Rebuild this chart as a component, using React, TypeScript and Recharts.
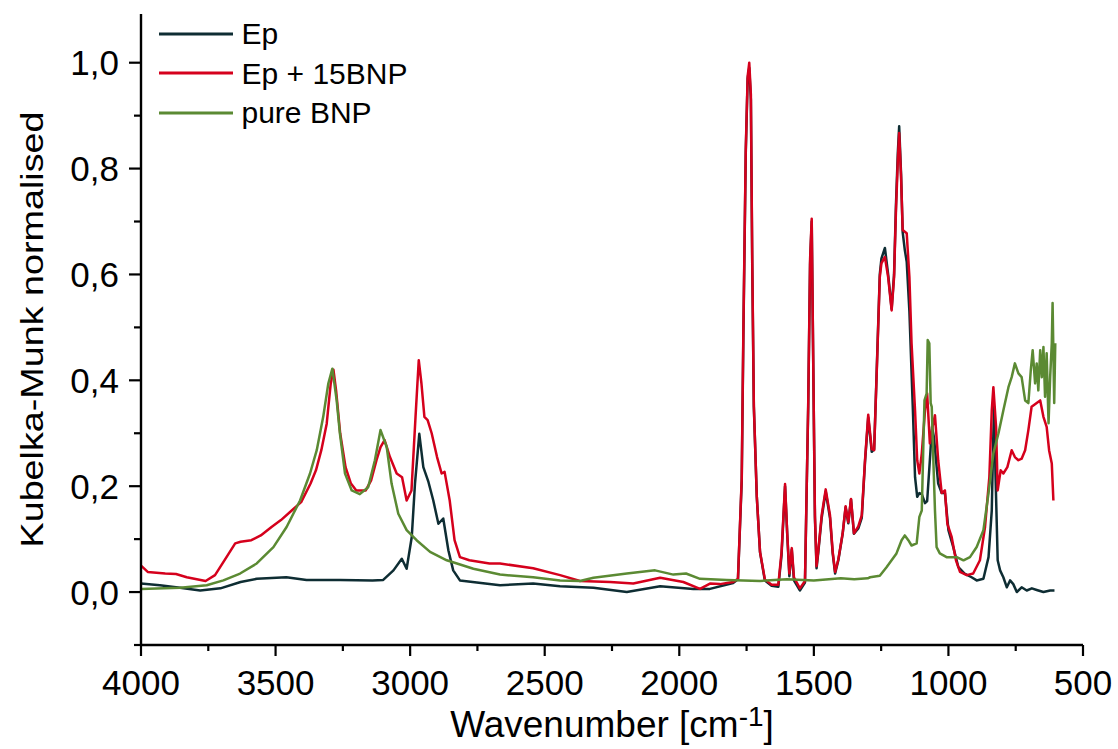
import React from 'react';
import { LineChart, Line, XAxis, YAxis } from 'recharts';

const FONT = '"Liberation Sans", Arial, Helvetica, sans-serif';

// ---- Ep ----
const epWavenumbers = [
  4000, 3930, 3855, 3780, 3705, 3630, 3570, 3460, 3385, 3260, 3140, 3100, 3062, 3031, 3013, 2994, 2982, 2966, 2951, 2932,
  2914, 2895, 2877, 2858, 2840, 2815, 2666, 2543, 2443, 2319, 2195, 2071, 1948, 1886, 1800, 1782,
  1768, 1762, 1753, 1746, 1740, 1734, 1729, 1723, 1712, 1700, 1682, 1657, 1632, 1620, 1607, 1599, 1591, 1582, 1574, 1552,
  1533, 1521, 1514, 1508, 1502, 1496, 1490, 1484, 1471, 1456, 1440, 1430, 1421, 1409, 1393, 1382, 1372, 1362, 1351, 1335,
  1322, 1310, 1298, 1285, 1276, 1267, 1255, 1249, 1236, 1224, 1211, 1202, 1195, 1188, 1183, 1176, 1170, 1162, 1155, 1145,
  1132, 1124, 1116, 1108, 1099, 1087, 1079, 1069, 1061, 1054, 1038, 1025, 1013, 1000, 982, 963, 940, 914, 895, 870,
  851, 839, 833, 830, 825, 817, 808, 796, 783, 771, 759, 746, 728, 709, 690, 672, 647, 622, 606,
];
const epValues = [
  0.016, 0.013, 0.008, 0.003, 0.007, 0.019, 0.025, 0.028, 0.023, 0.023, 0.022, 0.023, 0.041, 0.063, 0.044, 0.104, 0.205, 0.299, 0.236, 0.208,
  0.173, 0.129, 0.139, 0.079, 0.041, 0.022, 0.013, 0.016, 0.011, 0.008, 0.0, 0.011, 0.006, 0.006, 0.017, 0.024,
  0.21, 0.48, 0.83, 0.97, 0.99, 0.93, 0.62, 0.35, 0.18, 0.075, 0.022, 0.012, 0.01, 0.07, 0.2, 0.11, 0.03, 0.08, 0.022, 0.003,
  0.018, 0.35, 0.62, 0.7, 0.42, 0.14, 0.045, 0.073, 0.14, 0.19, 0.14, 0.073, 0.035, 0.06, 0.11, 0.16, 0.13, 0.175, 0.11, 0.12,
  0.14, 0.245, 0.33, 0.265, 0.27, 0.41, 0.6, 0.63, 0.65, 0.6, 0.535, 0.6, 0.73, 0.83, 0.88, 0.79, 0.68, 0.646, 0.624, 0.53,
  0.343, 0.217, 0.18, 0.187, 0.185, 0.168, 0.172, 0.249, 0.312, 0.293, 0.205, 0.187, 0.187, 0.117, 0.085, 0.047, 0.035, 0.028, 0.022, 0.025,
  0.066, 0.154, 0.3, 0.35, 0.22, 0.06, 0.041, 0.028, 0.009, 0.022, 0.015, 0.0, 0.009, 0.003, 0.007, 0.004, 0.0, 0.003, 0.003,
];

// ---- Ep + 15BNP ----
const bnpCompWavenumbers = [
  4000, 3975, 3910, 3870, 3830, 3760, 3725, 3690, 3650, 3630, 3590, 3555, 3515, 3480, 3440, 3405, 3370, 3350, 3330, 3310,
  3295, 3285, 3275, 3260, 3240, 3220, 3200, 3165, 3145, 3125, 3110, 3095, 3075, 3050, 3030, 3013, 2995, 2980, 2968, 2958,
  2947, 2935, 2920, 2900, 2883, 2872, 2853, 2835, 2815, 2780, 2705, 2666, 2543, 2443, 2369, 2257, 2171, 2071, 1985, 1923,
  1886, 1849, 1800, 1782,
  1768, 1762, 1753, 1746, 1740, 1734, 1729, 1723, 1712, 1700, 1682, 1657, 1632, 1620, 1607, 1599, 1591, 1582, 1574, 1552,
  1533, 1521, 1514, 1508, 1502, 1496, 1490, 1484, 1471, 1456, 1440, 1430, 1421, 1409, 1393, 1382, 1372, 1362, 1351, 1335,
  1322, 1310, 1298, 1285, 1276, 1267, 1255, 1249, 1236, 1224, 1211, 1202, 1195, 1188, 1183, 1176, 1170, 1155, 1145, 1137,
  1124, 1116, 1108, 1099, 1087, 1079, 1069, 1059, 1050, 1038, 1025, 1013, 1004, 988, 972, 957, 932, 908, 883, 864,
  848, 839, 833, 823, 817, 806, 796, 781, 765, 753, 740, 728, 715, 703, 691, 672, 659, 647, 635, 626, 616, 610,
];
const bnpCompValues = [
  0.05, 0.038, 0.035, 0.034, 0.028, 0.021, 0.032, 0.06, 0.092, 0.095, 0.098, 0.107, 0.123, 0.136, 0.154, 0.17, 0.205, 0.23, 0.268, 0.318,
  0.394, 0.42, 0.38, 0.3, 0.236, 0.205, 0.192, 0.192, 0.211, 0.249, 0.274, 0.287, 0.255, 0.224, 0.217, 0.173, 0.192, 0.331, 0.438, 0.394,
  0.331, 0.325, 0.3, 0.255, 0.224, 0.227, 0.173, 0.098, 0.066, 0.06, 0.054, 0.054, 0.045, 0.032, 0.021, 0.019, 0.016, 0.027, 0.019, 0.006,
  0.016, 0.015, 0.019, 0.025,
  0.215, 0.49, 0.836, 0.974, 1.0, 0.94, 0.629, 0.353, 0.18, 0.076, 0.024, 0.014, 0.014, 0.076, 0.204, 0.111, 0.035, 0.083, 0.028, 0.007,
  0.021, 0.353, 0.629, 0.705, 0.42, 0.145, 0.049, 0.076, 0.145, 0.194, 0.145, 0.076, 0.038, 0.062, 0.111, 0.162, 0.132, 0.176, 0.111, 0.124,
  0.145, 0.249, 0.335, 0.27, 0.268, 0.406, 0.595, 0.621, 0.633, 0.595, 0.532, 0.595, 0.72, 0.816, 0.867, 0.785, 0.684, 0.678, 0.595, 0.47,
  0.343, 0.249, 0.224, 0.262, 0.343, 0.375, 0.281, 0.312, 0.334, 0.249, 0.187, 0.192, 0.129, 0.104, 0.06, 0.038, 0.032, 0.035, 0.06, 0.123,
  0.217, 0.343, 0.387, 0.312, 0.192, 0.23, 0.224, 0.236, 0.268, 0.255, 0.249, 0.252, 0.268, 0.306, 0.35, 0.357, 0.362, 0.331, 0.312, 0.268, 0.243, 0.173,
];

// ---- pure BNP ----
const pureWavenumbers = [
  4000, 3855, 3756, 3694, 3632, 3570, 3508, 3459, 3409, 3372, 3347, 3323, 3304, 3289, 3273, 3261, 3242, 3217, 3187, 3156,
  3131, 3110, 3087, 3069, 3044, 3013, 2976, 2926, 2864, 2765, 2666, 2543, 2443, 2369, 2319, 2195, 2090, 2022, 1975, 1923,
  1824, 1700, 1600, 1500, 1400, 1350, 1300, 1291, 1255, 1230, 1193, 1174, 1162, 1149, 1137, 1118, 1108, 1099, 1093, 1089,
  1081, 1077, 1071, 1066, 1062, 1056, 1050, 1044, 1032, 1007, 969, 944, 920, 895, 870, 851, 833, 814, 796, 777,
  765, 753, 740, 728, 715, 703, 694, 687, 678, 672, 666, 659, 653, 647, 641, 635, 628, 622, 616, 613, 607, 603,
];
const pureValues = [
  0.006, 0.008, 0.013, 0.022, 0.035, 0.054, 0.085, 0.123, 0.173, 0.224, 0.268, 0.331, 0.394, 0.422, 0.362, 0.3, 0.224, 0.192, 0.185, 0.198,
  0.249, 0.306, 0.274, 0.205, 0.148, 0.117, 0.098, 0.076, 0.06, 0.044, 0.033, 0.028, 0.022, 0.021, 0.027, 0.035, 0.041, 0.033, 0.035, 0.025,
  0.023, 0.021, 0.024, 0.022, 0.026, 0.024, 0.026, 0.028, 0.031, 0.047, 0.073, 0.098, 0.107, 0.098, 0.088, 0.092, 0.142, 0.154, 0.281, 0.362,
  0.375, 0.476, 0.47, 0.357, 0.35, 0.249, 0.154, 0.085, 0.073, 0.066, 0.066, 0.06, 0.066, 0.085, 0.117, 0.187, 0.262, 0.3, 0.343, 0.387,
  0.406, 0.432, 0.413, 0.406, 0.362, 0.357, 0.419, 0.457, 0.394, 0.432, 0.381, 0.457, 0.406, 0.463, 0.369, 0.451, 0.319, 0.406, 0.47, 0.546, 0.357, 0.47,
];

const seriesNames = ['Ep', 'Ep + 15BNP', 'pure BNP'];
const seriesColors = ['#0e2d33', '#d5001c', '#5b8a33'];

const xMajorTicks = [4000, 3500, 3000, 2500, 2000, 1500, 1000, 500];
const xMinorTicks = [3750, 3250, 2750, 2250, 1750, 1250, 750];
const yMajorTicks = [0, 0.2, 0.4, 0.6, 0.8, 1.0];
const yMinorTicks = [-0.1, 0.1, 0.3, 0.5, 0.7, 0.9];

const toPoints = (xs: number[], ys: number[]) => xs.map((x, i) => ({ x, y: ys[i] }));
const seriesData = [
  toPoints(epWavenumbers, epValues),
  toPoints(bnpCompWavenumbers, bnpCompValues),
  toPoints(pureWavenumbers, pureValues),
];

const xTicks = [...xMajorTicks, ...xMinorTicks].sort((a, b) => b - a);
const yTicks = [...yMajorTicks, ...yMinorTicks].sort((a, b) => a - b);

const XTick = (props: any) => {
  const { x, y, payload } = props;
  const major = xMajorTicks.includes(payload.value);
  return (
    <g>
      <line x1={x} y1={y} x2={x} y2={y + (major ? 11 : 6)} stroke="#000" strokeWidth={2.2} />
      {major && (
        <text x={x} y={y + 50} textAnchor="middle" fontSize={35} fill="#000" fontFamily={FONT}>
          {payload.value}
        </text>
      )}
    </g>
  );
};

const YTick = (props: any) => {
  const { x, y, payload } = props;
  const major = yMajorTicks.includes(payload.value);
  return (
    <g>
      <line x1={x} y1={y} x2={x - (major ? 12 : 7)} y2={y} stroke="#000" strokeWidth={2.2} />
      {major && (
        <text x={x - 22} y={y} dy={12.5} textAnchor="end" fontSize={35} fill="#000" fontFamily={FONT}>
          {payload.value.toFixed(1).replace('.', ',')}
        </text>
      )}
    </g>
  );
};

const YTitle = (props: any) => {
  const { viewBox } = props;
  const cx = viewBox.x + 43;
  const cy = viewBox.y + viewBox.height / 2;
  return (
    <text
      x={cx}
      y={cy}
      transform={`rotate(-90, ${cx}, ${cy})`}
      textAnchor="middle"
      fontSize={31}
      fill="#000"
      fontFamily={FONT}
      textLength={436}
      lengthAdjust="spacingAndGlyphs"
    >
      Kubelka-Munk normalised
    </text>
  );
};

const XTitle = (props: any) => {
  const { viewBox } = props;
  const cx = viewBox.x + viewBox.width / 2;
  const by = viewBox.y + 92;
  return (
    <text x={cx} y={by} textAnchor="middle" fontSize={37} fill="#000" fontFamily={FONT}>
      <tspan>Wavenumber [cm</tspan>
      <tspan dy={-11} fontSize={28}>-1</tspan>
      <tspan dy={11}>]</tspan>
    </text>
  );
};

export default function App() {
  return (
    <div style={{ position: 'absolute', left: 0, top: 0, width: 1118, height: 749, background: '#fff' }}>
      <LineChart width={1118} height={749} margin={{ top: 14, right: 35, left: 0, bottom: 0 }}>
        <XAxis
          dataKey="x"
          type="number"
          domain={[500, 4000]}
          reversed
          allowDataOverflow
          ticks={xTicks}
          interval={0}
          tickSize={0}
          tickMargin={0}
          tick={<XTick />}
          height={104}
          axisLine={{ stroke: '#000', strokeWidth: 2.4 }}
          tickLine={false}
          label={{ content: <XTitle /> }}
        />
        <YAxis
          type="number"
          domain={[-0.1, 1.092]}
          allowDataOverflow
          ticks={yTicks}
          interval={0}
          tickSize={0}
          tickMargin={0}
          tick={<YTick />}
          width={141}
          axisLine={{ stroke: '#000', strokeWidth: 2.4 }}
          tickLine={false}
          label={{ content: <YTitle /> }}
        />
        {seriesData.map((d, i) => (
          <Line
            key={seriesNames[i]}
            data={d}
            dataKey="y"
            name={seriesNames[i]}
            type="linear"
            stroke={seriesColors[i]}
            strokeWidth={2.5}
            dot={false}
            activeDot={false}
            isAnimationActive={false}
            strokeLinejoin="round"
          />
        ))}
      </LineChart>
      <div style={{ position: 'absolute', left: 159, top: 14, fontFamily: FONT }}>
        {seriesNames.map((n, i) => (
          <div key={n} style={{ display: 'flex', alignItems: 'center', height: 39.5 }}>
            <svg width={74} height={6} style={{ marginRight: 8.5 }}>
              <line x1={0} y1={3} x2={74} y2={3} stroke={seriesColors[i]} strokeWidth={3} />
            </svg>
            <span style={{ fontSize: 30, lineHeight: '39.5px', color: '#000' }}>{n}</span>
          </div>
        ))}
      </div>
    </div>
  );
}
